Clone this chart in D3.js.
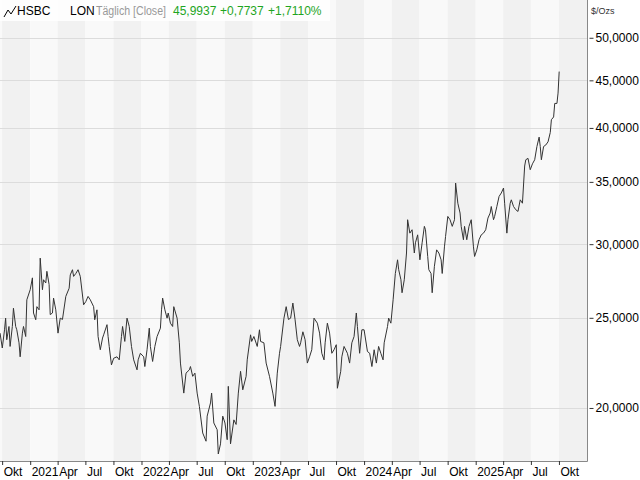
<!DOCTYPE html>
<html><head><meta charset="utf-8">
<script src="https://cdn.jsdelivr.net/npm/d3@7"></script>
<style>body{margin:0;background:#fff}svg{display:block}text{font-family:"Liberation Sans",Arial,sans-serif}</style>
</head><body><svg id="c" width="640" height="480"></svg>
<script>
// decimal year dates and closing prices
const dates = [2020.73,2020.75,2020.77,2020.78,2020.79,2020.81,2020.82,2020.84,2020.85,2020.87,2020.88,2020.90,2020.91,2020.93,2020.94,2020.96,2020.97,2021.00,2021.02,2021.03,2021.05,2021.06,2021.08,2021.09,2021.11,2021.12,2021.14,2021.15,2021.17,2021.18,2021.20,2021.21,2021.23,2021.25,2021.27,2021.29,2021.32,2021.35,2021.36,2021.38,2021.39,2021.41,2021.43,2021.45,2021.48,2021.50,2021.52,2021.54,2021.57,2021.58,2021.60,2021.61,2021.63,2021.65,2021.66,2021.69,2021.70,2021.71,2021.73,2021.75,2021.78,2021.80,2021.82,2021.83,2021.85,2021.87,2021.89,2021.91,2021.93,2021.96,2021.97,2021.99,2022.02,2022.03,2022.05,2022.07,2022.08,2022.10,2022.12,2022.14,2022.17,2022.18,2022.19,2022.21,2022.23,2022.24,2022.26,2022.28,2022.29,2022.32,2022.34,2022.35,2022.38,2022.40,2022.43,2022.44,2022.46,2022.48,2022.50,2022.52,2022.55,2022.58,2022.59,2022.62,2022.63,2022.65,2022.68,2022.69,2022.71,2022.73,2022.75,2022.77,2022.78,2022.80,2022.83,2022.85,2022.87,2022.89,2022.91,2022.94,2022.95,2022.98,2022.99,2023.01,2023.04,2023.06,2023.07,2023.10,2023.12,2023.15,2023.18,2023.20,2023.22,2023.24,2023.25,2023.28,2023.30,2023.32,2023.34,2023.36,2023.38,2023.40,2023.42,2023.43,2023.45,2023.47,2023.49,2023.51,2023.53,2023.55,2023.58,2023.60,2023.62,2023.64,2023.65,2023.67,2023.69,2023.71,2023.73,2023.75,2023.76,2023.79,2023.80,2023.82,2023.85,2023.87,2023.89,2023.91,2023.93,2023.94,2023.96,2023.98,2024.00,2024.03,2024.05,2024.07,2024.09,2024.11,2024.13,2024.15,2024.17,2024.18,2024.21,2024.22,2024.24,2024.26,2024.28,2024.30,2024.31,2024.33,2024.34,2024.36,2024.38,2024.39,2024.41,2024.43,2024.45,2024.46,2024.48,2024.50,2024.52,2024.54,2024.55,2024.57,2024.58,2024.60,2024.61,2024.63,2024.65,2024.67,2024.69,2024.70,2024.72,2024.73,2024.75,2024.77,2024.79,2024.81,2024.82,2024.84,2024.86,2024.87,2024.89,2024.90,2024.92,2024.94,2024.96,2024.98,2024.99,2025.01,2025.03,2025.05,2025.07,2025.09,2025.11,2025.13,2025.14,2025.16,2025.17,2025.19,2025.21,2025.23,2025.25,2025.26,2025.28,2025.29,2025.31,2025.32,2025.34,2025.36,2025.38,2025.40,2025.42,2025.44,2025.45,2025.47,2025.49,2025.51,2025.53,2025.55,2025.57,2025.58,2025.59,2025.61,2025.63,2025.65,2025.67,2025.68,2025.70,2025.71,2025.73,2025.74,2025.75];
const closes = [24.07,23.20,24.27,24.98,23.68,24.47,23.29,24.47,25.6,24.47,24.27,23.5,22.7,24.07,24.47,23.87,26.14,26.8,27.6,25.3,24.88,25.7,25.5,28.98,26.8,27.47,27.25,28.05,27.14,25.2,25.3,26.25,25.5,24.07,24.98,24.9,26.36,26.9,27.8,28.16,27.7,27.9,28.16,27.7,25.82,26.03,26.36,26.14,25.7,24.88,25.5,23.87,23.1,23.78,23.97,24.58,23.87,23.29,22.25,22.62,22.7,22.53,23.87,24.47,23.58,24.98,24.47,23.29,22.53,21.98,22.53,22.9,22.7,22.16,23.1,24.37,23.29,22.44,23.29,23.87,24.37,25.5,26.25,25.5,24.98,25.3,24.67,24.47,25.7,24.98,23.5,22.35,20.75,21.8,21.98,22.16,21.63,21.8,20.75,20.08,18.8,18.42,19.6,20.25,20.75,19.27,18.95,17.85,18.3,19.6,19.27,18.49,21.1,18.3,19.42,19.2,20.75,21.9,20.92,21.63,22.53,23.97,23.58,23.87,23.29,24.27,23.58,23.5,22.35,21.63,20.75,20.08,21.8,22.9,23.29,24.98,25.7,24.9,24.98,25.93,24.88,23.68,23.29,23.5,24.15,23.68,22.35,22.7,23.1,24.98,24.67,24.07,22.9,22.53,23.5,24.67,24.07,22.9,23.1,23.39,21.0,21.9,22.7,23.29,22.9,22.35,23.5,23.87,25.3,24.47,22.9,24.27,24.27,23.0,22.9,22.16,23.1,22.35,23.29,22.9,22.53,23.5,24.47,24.98,24.67,26.14,27.9,28.86,28.16,27.47,26.6,27.47,29.35,31.87,30.83,31.09,29.35,30.1,30.7,28.86,30.1,31.35,31.09,29.1,28.16,27.9,26.6,28.4,29.58,29.35,28.86,27.9,29.8,30.58,32.13,31.87,31.35,31.87,34.9,33.2,32.4,31.35,30.33,31.35,30.33,31.35,31.87,29.8,29.1,29.58,30.33,30.7,30.83,31.09,32.0,32.4,32.93,31.87,32.13,32.93,33.76,34.05,34.47,33.2,30.83,31.87,33.2,33.48,32.93,32.67,32.53,33.48,33.2,36.4,36.97,37.1,36.07,36.6,36.97,38.2,39.1,38.2,36.97,38.2,38.35,38.65,39.55,40.82,41.1,42.5,42.5,43.6,45.99];
const yTicks = [20,25,30,35,40,45,50];
const monthNames = ["","","","Apr","","","Jul","","","Okt","",""];

const toDate = y => { const yr = Math.floor(y); const s = new Date(yr,0,1), e = new Date(yr+1,0,1); return new Date(+s + (y-yr)*(e-s)); };
const data = dates.map((d,i)=>({t:toDate(d), v:closes[i]}));

const W=587, H=461;
const svg = d3.select("#c");
const x = d3.scaleTime().domain([new Date(2020,8,24), new Date(2026,0,1)]).range([0,W]);
const y = d3.scaleLog().domain([17.54, 54.9]).range([H,0]);

// quarter bands
const qs = d3.timeMonth.every(3).range(new Date(2020,6,1), new Date(2026,0,1));
svg.append("g").selectAll("rect").data(qs).join("rect")
  .attr("x", d=>Math.max(0,x(d))).attr("y",0)
  .attr("width", d=>Math.min(W,x(d3.timeMonth.offset(d,3)))-Math.max(0,x(d)))
  .attr("height",H)
  .attr("fill", d=> (d.getMonth()%6===0) ? "#f9f9f9" : "#f1f1f1");

// grid
svg.append("g").selectAll("line").data(yTicks).join("line")
  .attr("x1",0).attr("x2",W).attr("y1",d=>Math.round(y(d))+0.5).attr("y2",d=>Math.round(y(d))+0.5)
  .attr("stroke","#dcdcdc");

// line
svg.append("path").datum(data).attr("fill","none").attr("stroke","#333").attr("stroke-width",1)
  .attr("d", d3.line().x(d=>x(d.t)).y(d=>y(d.v)));

// border
svg.append("path").attr("d",`M${W+0.5},0V${H+0.5}H0`).attr("fill","none").attr("stroke","#888");

// right axis
const ya = svg.append("g").attr("transform",`translate(${W+0.5},0)`)
  .call(d3.axisRight(y).tickValues(yTicks).tickSize(4).tickFormat(d=>d3.format(".4f")(d).replace(".",",")));
ya.select(".domain").remove();
ya.selectAll("line").attr("stroke","#333").attr("transform","translate(2,0)");
ya.selectAll("text").attr("x",8).attr("font-size",12).attr("fill","#000");
svg.append("text").attr("x",591).attr("y",14).attr("font-size",9).attr("fill","#333").text("$/Ozs");

// bottom axis
const mt = d3.timeMonth.every(3).range(new Date(2020,9,1), new Date(2025,10,1));
const xa = svg.append("g").attr("transform",`translate(0,${H})`)
  .call(d3.axisBottom(x).tickValues(mt).tickSize(4).tickFormat(d=>d.getMonth()===0? String(d.getFullYear()) : monthNames[d.getMonth()]));
xa.select(".domain").remove();
xa.selectAll("line").attr("stroke","#333");
xa.selectAll("text").attr("text-anchor","start").attr("x",1).attr("y",6).attr("font-size",12).attr("fill","#000");

// header
svg.append("rect").attr("x",0).attr("y",0).attr("width",330).attr("height",21).attr("fill","#fff").attr("opacity",0.85);
svg.append("path").attr("d","M4,17 L8,10 L11,14 L16,6").attr("fill","none").attr("stroke","#000").attr("stroke-width",1);
const hdr = svg.append("text").attr("y",15).attr("font-size",12);
hdr.append("tspan").attr("x",17).attr("fill","#000").text("HSBC");
hdr.append("tspan").attr("x",70).attr("fill","#000").text("LON");
hdr.append("tspan").attr("x",96).attr("fill","#999").attr("textLength",70).attr("lengthAdjust","spacingAndGlyphs").text("Täglich [Close]");
hdr.append("tspan").attr("x",173).attr("fill","#1fa51f").text("45,9937");
hdr.append("tspan").attr("x",220).attr("fill","#1fa51f").text("+0,7737");
hdr.append("tspan").attr("x",268).attr("fill","#1fa51f").text("+1,7110%");
</script></body></html>
